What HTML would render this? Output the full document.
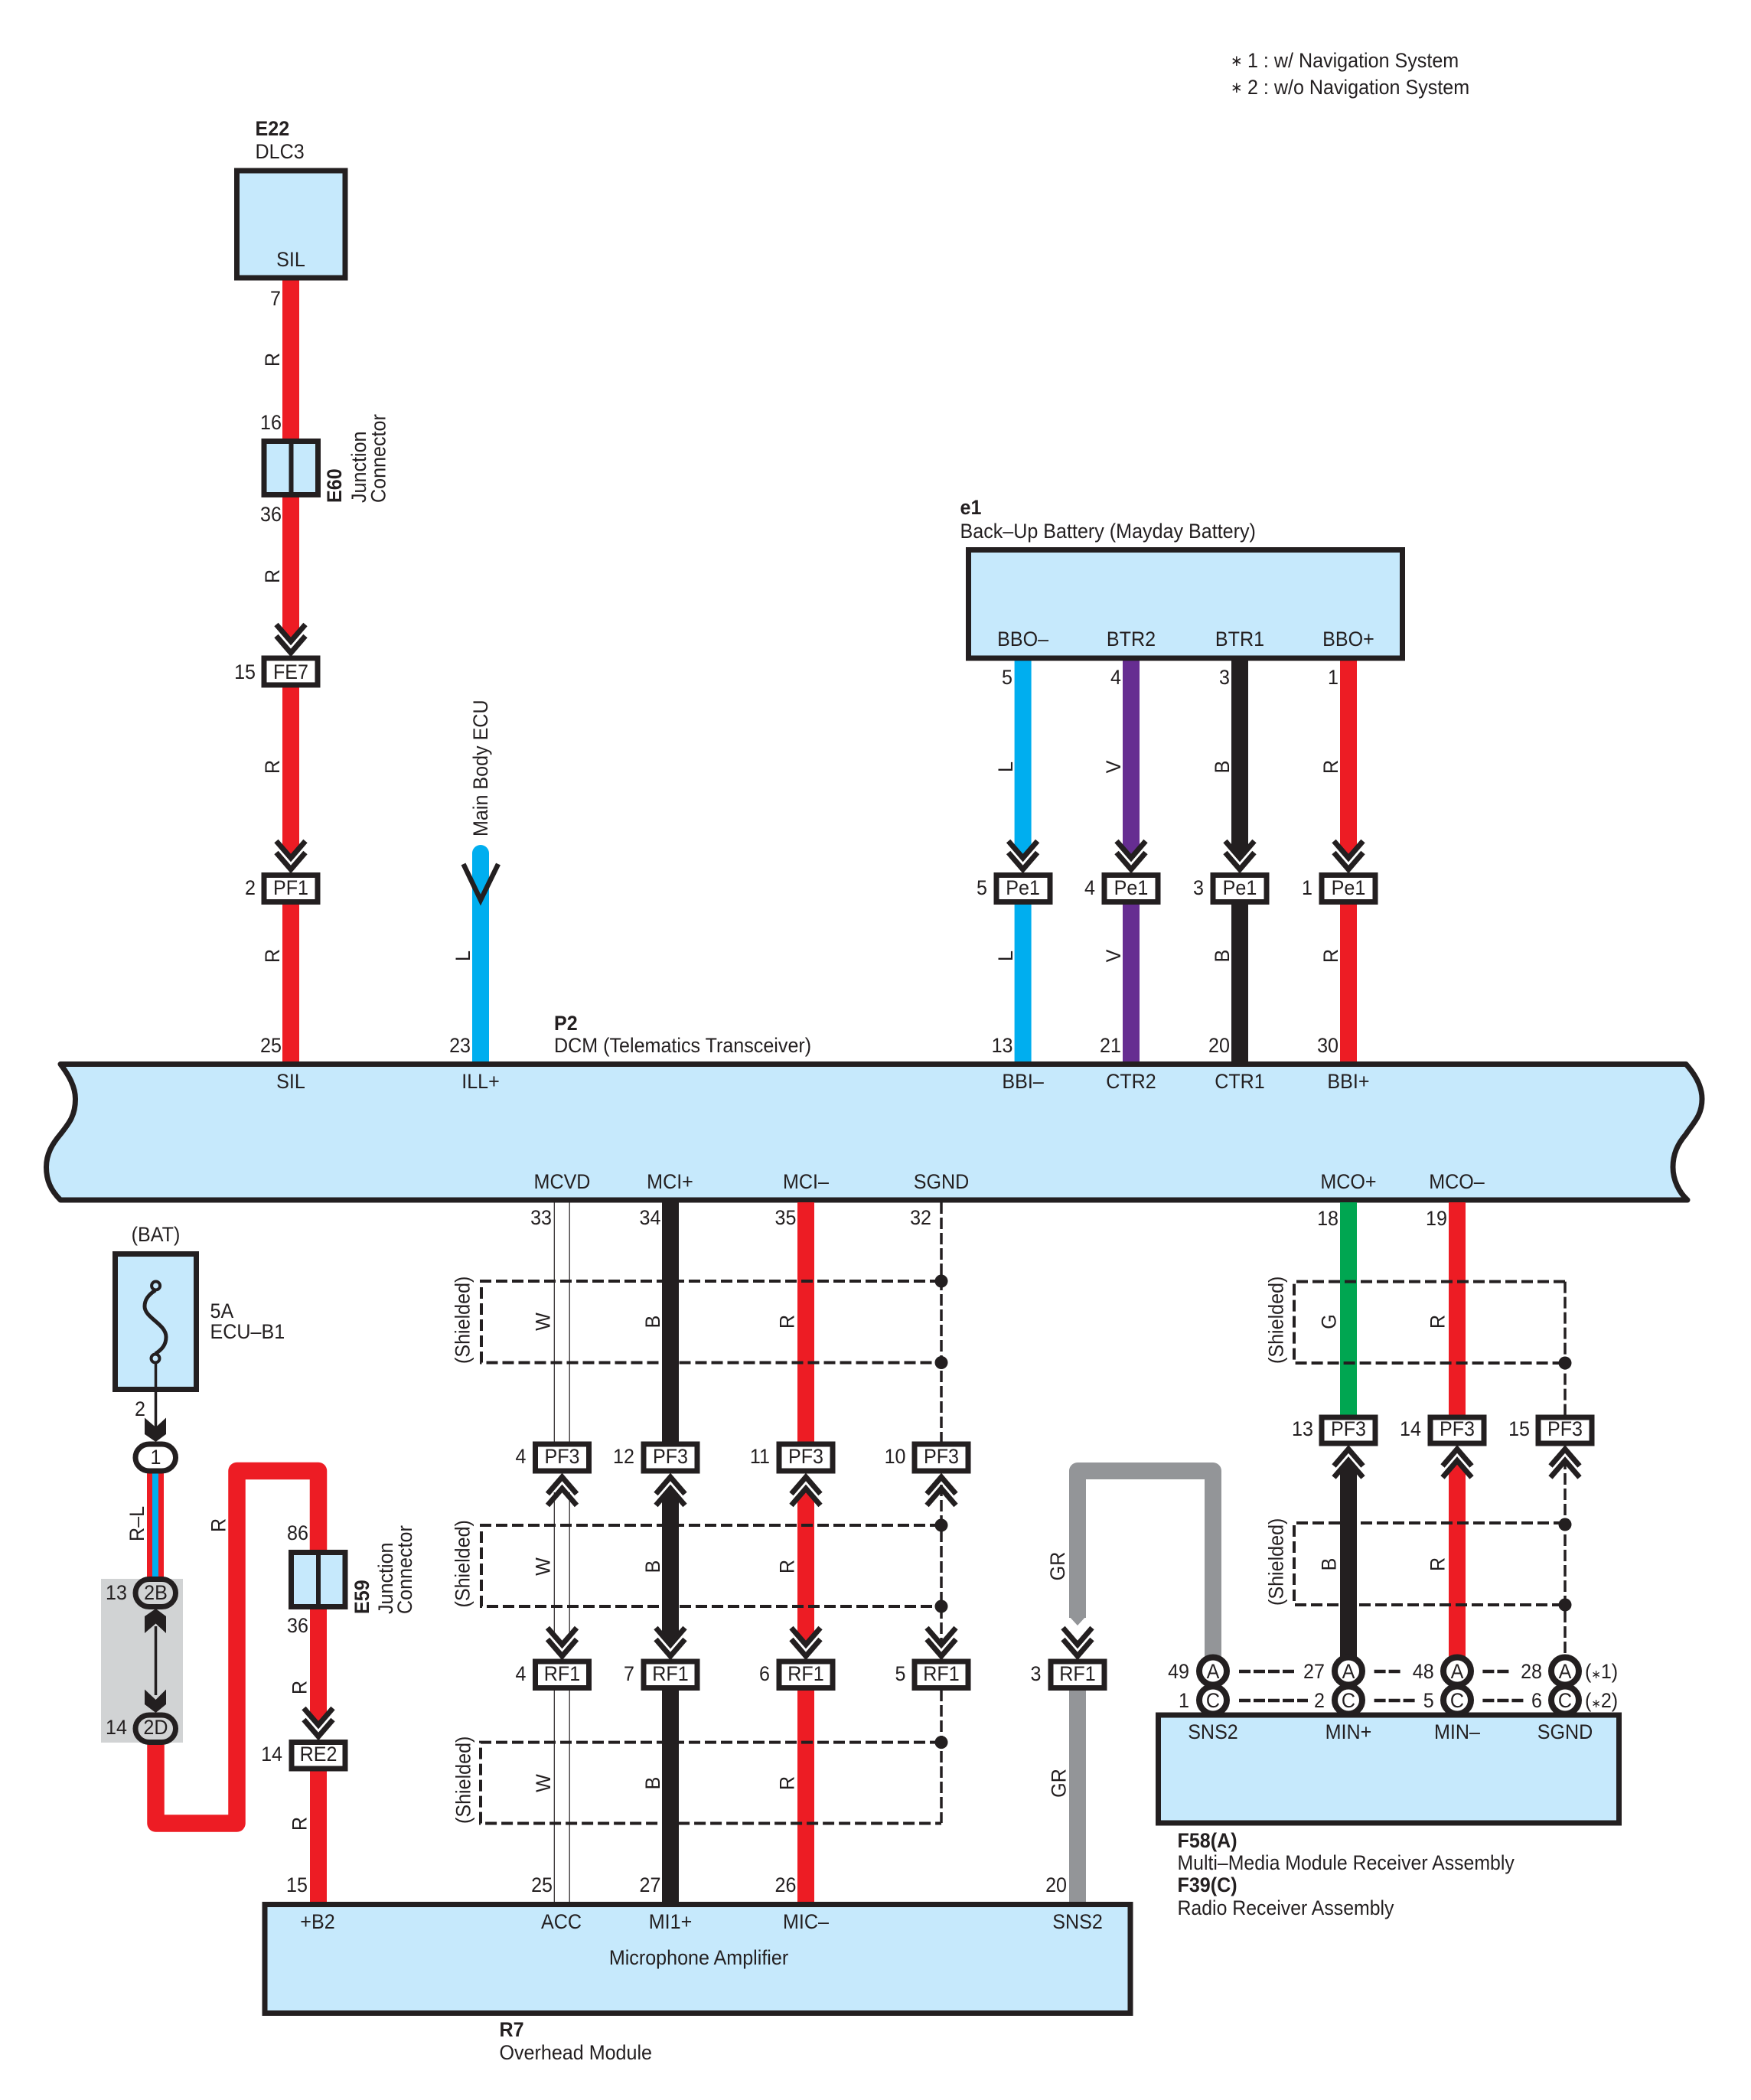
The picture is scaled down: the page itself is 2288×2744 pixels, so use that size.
<!DOCTYPE html>
<html><head><meta charset="utf-8"><title>Wiring diagram</title>
<style>
html,body{margin:0;padding:0;background:#fff}
svg{display:block}
text{font-family:"Liberation Sans",sans-serif;font-size:27px;fill:#231f20;transform-box:fill-box}
.t{text-anchor:start;transform:scaleX(.93);transform-origin:0 0}
.m{text-anchor:middle;transform:scaleX(.93);transform-origin:50% 0}
.e{text-anchor:end;transform:scaleX(.93);transform-origin:100% 0}
.n{transform:scaleX(.92)}
.b{font-weight:bold}
.w{fill:none;stroke-width:22}
.box{fill:#fff;stroke:#231f20;stroke-width:7}
.blue{fill:#c6e9fc;stroke:#231f20;stroke-width:7}
.d{fill:none;stroke:#231f20;stroke-width:4;stroke-dasharray:15 6}
.v{fill:none;stroke:#231f20;stroke-width:3.5;stroke-dasharray:15 5}
.thin{fill:none;stroke:#231f20;stroke-width:1.2}
.ring{fill:#fff;stroke:#231f20;stroke-width:8}
.pill{fill:#fff;stroke:#231f20;stroke-width:7}
</style></head><body>
<svg xmlns="http://www.w3.org/2000/svg" width="2288" height="2744" viewBox="0 0 2288 2744">
<defs>
<path id="cd" d="M-19 -37L0 -15L19 -37M-19 -22L0 0L19 -22" transform="translate(0,-4)" fill="none" stroke="#231f20" stroke-width="7"/>
<g id="cu"><use href="#cd" transform="scale(1,-1)"/></g>
</defs>
<rect width="2288" height="2744" fill="#fff"/>
<rect x="132" y="2063" width="107" height="214" fill="#d1d3d4"/>

<!-- wires top left -->
<path fill="#ed1c24" d="M369 366V829L380 841L391 829V366Z"/>
<path fill="#ed1c24" d="M369 898V1112L380 1124L391 1112V898Z"/>
<path class="w" stroke="#ed1c24" d="M380 1182V1392"/>
<path fill="#00aeef" d="M617 1390V1115A11 11 0 0 1 639 1115V1390Z"/>
<!-- battery wires -->
<path fill="#00aeef" d="M1325.6 863V1112L1336.6 1124L1347.6 1112V863Z"/>
<path fill="#662d91" d="M1467 863V1112L1478 1124L1489 1112V863Z"/>
<path fill="#231f20" d="M1609 863V1112L1620 1124L1631 1112V863Z"/>
<path fill="#ed1c24" d="M1751 863V1112L1762 1124L1773 1112V863Z"/>
<path class="w" stroke="#00aeef" d="M1336.6 1182V1392"/>
<path class="w" stroke="#662d91" d="M1478 1182V1392"/>
<path class="w" stroke="#231f20" d="M1620 1182V1392"/>
<path class="w" stroke="#ed1c24" d="M1762 1182V1392"/>

<!-- bus -->
<path class="blue" stroke-linejoin="round" d="M79 1390.5L2203 1390.5C2216 1405 2224 1420 2224 1436C2224 1458 2212 1468 2203 1482C2192 1495 2186 1508 2186 1525C2186 1542 2194 1558 2205 1568L79 1568C66 1555 60.5 1542 60.5 1525C60.5 1508 68 1495 79 1482C90 1468 98.5 1458 98.5 1436C98.5 1420 90 1405 79 1390.5Z"/>

<!-- e1 & E22 -->
<rect class="blue" x="1265.5" y="718.5" width="567" height="141.5"/>
<rect class="blue" x="309.5" y="223" width="141.5" height="140"/>
<!-- E60 -->
<rect class="blue" x="345" y="576.5" width="70.5" height="70"/>
<path d="M380.5 576V647" stroke="#231f20" stroke-width="6"/>

<!-- lower wires -->
<path class="thin" d="M724.3 1571V1884M744.2 1571V1884M724.3 1950V2142M744.2 1950V2142M724.3 2208V2486M744.2 2208V2486"/>
<path class="w" stroke="#231f20" d="M876 1571V1884"/>
<path class="w" stroke="#ed1c24" d="M1053 1571V1884"/>
<path fill="#231f20" d="M865 2141V1953L876 1941L887 1953V2141L876 2153Z"/>
<path fill="#ed1c24" d="M1042 2141V1953L1053 1941L1064 1953V2141L1053 2153Z"/>
<path class="w" stroke="#231f20" d="M876 2208V2487"/>
<path class="w" stroke="#ed1c24" d="M1053 2208V2487"/>
<path class="v" d="M1230 1571V1884M1230 1940V2152M1230 2208V2382"/>
<!-- right lower wires -->
<path class="w" stroke="#00a651" d="M1762 1571V1849"/>
<path class="w" stroke="#ed1c24" d="M1904 1571V1849"/>
<path fill="#231f20" d="M1751 2170V1917L1762 1905L1773 1917V2170Z"/>
<path fill="#ed1c24" d="M1893 2170V1917L1904 1905L1915 1917V2170Z"/>
<path class="v" d="M2045 1674.6V1849M2045 1905V2165"/>
<!-- GR -->
<path fill="none" stroke="#939598" stroke-width="22" stroke-linejoin="round" d="M1585 2170V1922H1408V2114"/>
<path fill="#939598" d="M1397 2112L1408 2124L1419 2112Z"/>
<path class="w" stroke="#939598" d="M1408 2208V2487"/>
<!-- R-L -->
<path class="w" stroke="#ed1c24" d="M203 1925V2062"/>
<path d="M203 1925V2062" stroke="#00aeef" stroke-width="8"/>
<!-- red U -->
<path fill="none" stroke="#ed1c24" stroke-width="22.5" stroke-linejoin="round" d="M203.5 2278V2382.5H309.5V1922H416V2026"/>
<path class="w" stroke="#ed1c24" d="M416 2102V2245"/>
<path fill="#ed1c24" d="M405 2245L416 2257L427 2245Z"/>
<path class="w" stroke="#ed1c24" d="M416 2314V2487"/>

<!-- BAT -->
<rect class="blue" x="150.5" y="1638.5" width="106" height="177"/>
<path d="M203 1686C192 1693 189 1700 189 1707C189 1722 217 1730 217 1747C217 1757 212 1763 203 1769" fill="none" stroke="#231f20" stroke-width="5"/>
<circle cx="203.6" cy="1680" r="5.5" fill="#c6e9fc" stroke="#231f20" stroke-width="4"/>
<circle cx="203" cy="1775" r="5.5" fill="#c6e9fc" stroke="#231f20" stroke-width="4"/>
<path d="M203.5 1781V1870M203.5 2125V2215" stroke="#231f20" stroke-width="3.5"/>
<path fill="#231f20" d="M189 1852.5L203.5 1865L217 1852.5V1874L203.5 1884L189 1874Z"/>
<path fill="#231f20" d="M189 2134L203.5 2121.5L217 2134V2112L203.5 2102L189 2112Z"/>
<path fill="#231f20" d="M189 2207.5L203.5 2221L217 2207.5V2227L203.5 2238L189 2227Z"/>
<rect class="pill" x="177" y="1887" width="52.5" height="35" rx="18" ry="17.5"/>
<rect class="pill" x="177" y="2063.5" width="52.5" height="36" rx="18" ry="18" style="fill:#d1d3d4"/>
<rect class="pill" x="177" y="2241" width="52.5" height="35.5" rx="18" ry="17.7" style="fill:#d1d3d4"/>
<!-- E59 -->
<rect class="blue" x="380.5" y="2028.5" width="70.5" height="71"/>
<path d="M416 2028V2100" stroke="#231f20" stroke-width="6"/>
<!-- R7 -->
<rect class="blue" x="346" y="2488.5" width="1131" height="142"/>
<!-- A C rings -->
<circle class="ring" cx="1585" cy="2221.5" r="18"/><circle class="ring" cx="1762" cy="2221.5" r="18"/><circle class="ring" cx="1904" cy="2221.5" r="18"/><circle class="ring" cx="2045" cy="2221.5" r="18"/>
<circle class="ring" cx="1585" cy="2183.5" r="18"/><circle class="ring" cx="1762" cy="2183.5" r="18"/><circle class="ring" cx="1904" cy="2183.5" r="18"/><circle class="ring" cx="2045" cy="2183.5" r="18"/>
<!-- F58 -->
<rect class="blue" x="1513.5" y="2241" width="602" height="141"/>

<!-- shields -->
<path class="d" d="M1230 1674H629V1780.5H1230"/>
<path class="d" d="M1230 1993H629V2099H1230"/>
<path class="d" d="M1230 2276.6H628V2382.5H1230"/>
<path class="d" d="M2045 1674.6H1691V1781H2045"/>
<path class="d" d="M2045 1990H1691V2097H2045"/>
<g fill="#231f20">
<circle cx="1230" cy="1674" r="8.5"/><circle cx="1230" cy="1780.5" r="8.5"/><circle cx="1230" cy="1993" r="8.5"/><circle cx="1230" cy="2099" r="8.5"/><circle cx="1230" cy="2276.6" r="8.5"/>
<circle cx="2045" cy="1781" r="8.5"/><circle cx="2045" cy="1992" r="8.5"/><circle cx="2045" cy="2097" r="8.5"/>
</g>
<path d="M1619 2184H1691M1795.6 2184H1830M1937.4 2184H1971.6M1619 2222H1709M1795.6 2222H1849M1937.4 2222H1990.5" fill="none" stroke="#231f20" stroke-width="4.5" stroke-dasharray="15 4"/>

<!-- connector boxes -->
<rect class="box" x="345" y="860" width="70" height="35"/>
<rect class="box" x="345" y="1143.5" width="70" height="35"/>
<rect class="box" x="1302" y="1143.5" width="70" height="35"/><rect class="box" x="1443" y="1143.5" width="70" height="35"/><rect class="box" x="1585" y="1143.5" width="70" height="35"/><rect class="box" x="1727" y="1143.5" width="70" height="35"/>
<rect class="box" x="699.5" y="1887" width="70" height="35"/><rect class="box" x="841" y="1887" width="70" height="35"/><rect class="box" x="1018" y="1887" width="70" height="35"/><rect class="box" x="1195" y="1887" width="70" height="35"/>
<rect class="box" x="699.5" y="2171" width="70" height="34.5"/><rect class="box" x="841" y="2171" width="70" height="34.5"/><rect class="box" x="1018" y="2171" width="70" height="34.5"/><rect class="box" x="1195" y="2171" width="70" height="34.5"/><rect class="box" x="1373" y="2171" width="70" height="34.5"/>
<rect class="box" x="381" y="2276.5" width="70" height="34.5"/>
<rect class="box" x="1727" y="1852" width="70" height="34"/><rect class="box" x="1869" y="1852" width="70" height="34"/><rect class="box" x="2010" y="1852" width="70" height="34"/>

<!-- chevrons -->
<use href="#cd" x="380" y="857"/><use href="#cd" x="380" y="1140"/>
<use href="#cd" x="1336.6" y="1140"/><use href="#cd" x="1478" y="1140"/><use href="#cd" x="1620" y="1140"/><use href="#cd" x="1762" y="1140"/>
<use href="#cd" x="734.5" y="2168"/><use href="#cd" x="876" y="2168"/><use href="#cd" x="1053" y="2168"/><use href="#cd" x="1230" y="2168"/><use href="#cd" x="1408" y="2168"/>
<use href="#cd" x="416" y="2273"/>
<use href="#cu" x="734.5" y="1926"/><use href="#cu" x="876" y="1926"/><use href="#cu" x="1053" y="1926"/><use href="#cu" x="1230" y="1926"/>
<use href="#cu" x="1762" y="1889.5"/><use href="#cu" x="1904" y="1889.5"/><use href="#cu" x="2045" y="1889.5"/>
<path d="M605.5 1129L628 1176L651 1129" fill="none" stroke="#231f20" stroke-width="6.5"/>

<!-- legend -->
<text class="t" x="1608" y="86" style="font-size:20px">∗</text><text class="t" x="1630" y="88">1 : w/ Navigation System</text>
<text class="t" x="1608" y="121" style="font-size:20px">∗</text><text class="t" x="1630" y="123">2 : w/o Navigation System</text>

<!-- headings -->
<text class="t b" x="333.5" y="177">E22</text><text class="t" x="333.5" y="207">DLC3</text>
<text class="m" x="380" y="348">SIL</text>
<text class="t b" x="1254.5" y="672">e1</text><text class="t" x="1254.5" y="703">Back–Up Battery (Mayday Battery)</text>
<text class="m" x="1336.6" y="844">BBO–</text><text class="m" x="1478" y="844">BTR2</text><text class="m" x="1620" y="844">BTR1</text><text class="m" x="1762" y="844">BBO+</text>
<text class="e" x="1323" y="894">5</text><text class="e" x="1465" y="894">4</text><text class="e" x="1607" y="894">3</text><text class="e" x="1749" y="894">1</text>
<text class="t b" x="724" y="1346">P2</text><text class="t" x="724" y="1375">DCM (Telematics Transceiver)</text>

<!-- pins top -->
<text class="e" x="367" y="399">7</text><text class="e" x="368" y="561">16</text><text class="e" x="368" y="681">36</text>
<text class="m" x="380" y="887">FE7</text><text class="e" x="334" y="887">15</text>
<text class="m" x="380" y="1169">PF1</text><text class="e" x="334" y="1169">2</text>
<text class="e" x="368" y="1375">25</text><text class="e" x="615" y="1375">23</text>
<text class="e" x="1323.5" y="1375">13</text><text class="e" x="1465" y="1375">21</text><text class="e" x="1607" y="1375">20</text><text class="e" x="1749" y="1375">30</text>
<text class="m" x="1336.6" y="1169">Pe1</text><text class="m" x="1478" y="1169">Pe1</text><text class="m" x="1620" y="1169">Pe1</text><text class="m" x="1762" y="1169">Pe1</text>
<text class="e" x="1290" y="1169">5</text><text class="e" x="1431" y="1169">4</text><text class="e" x="1573" y="1169">3</text><text class="e" x="1715" y="1169">1</text>
<!-- bus labels -->
<text class="m" x="380" y="1422">SIL</text><text class="m" x="628" y="1422">ILL+</text><text class="m" x="1336.6" y="1422">BBI–</text><text class="m" x="1478" y="1422">CTR2</text><text class="m" x="1620" y="1422">CTR1</text><text class="m" x="1762" y="1422">BBI+</text>
<text class="m" x="734.5" y="1553">MCVD</text><text class="m" x="875.5" y="1553">MCI+</text><text class="m" x="1053" y="1553">MCI–</text><text class="m" x="1230" y="1553">SGND</text><text class="m" x="1762" y="1553">MCO+</text><text class="m" x="1903.5" y="1553">MCO–</text>
<text class="e" x="721" y="1600">33</text><text class="e" x="863.5" y="1600">34</text><text class="e" x="1040.5" y="1600">35</text><text class="e" x="1217" y="1600">32</text><text class="e" x="1749" y="1601">18</text><text class="e" x="1891" y="1601">19</text>

<!-- BAT labels -->
<text class="m" x="203.5" y="1622">(BAT)</text><text class="t" x="274.5" y="1722">5A</text><text class="t" x="274.5" y="1749">ECU–B1</text>
<text class="e" x="190" y="1850">2</text><text class="m" x="203.5" y="1913">1</text><text class="m" x="203.5" y="2090">2B</text><text class="e" x="166" y="2090">13</text><text class="m" x="203.5" y="2266">2D</text><text class="e" x="166" y="2266">14</text>
<text class="e" x="403" y="2012">86</text><text class="e" x="403" y="2133">36</text>
<text class="m" x="416" y="2301">RE2</text><text class="e" x="369" y="2301">14</text><text class="e" x="402" y="2472">15</text>

<!-- PF3 RF1 -->
<text class="m" x="734.5" y="1912">PF3</text><text class="m" x="876" y="1912">PF3</text><text class="m" x="1053" y="1912">PF3</text><text class="m" x="1230" y="1912">PF3</text>
<text class="e" x="687.5" y="1912">4</text><text class="e" x="829" y="1912">12</text><text class="e" x="1006" y="1912">11</text><text class="e" x="1183.5" y="1912">10</text>
<text class="m" x="734.5" y="2196">RF1</text><text class="m" x="876" y="2196">RF1</text><text class="m" x="1053" y="2196">RF1</text><text class="m" x="1230" y="2196">RF1</text><text class="m" x="1408" y="2196">RF1</text>
<text class="e" x="687.5" y="2196">4</text><text class="e" x="829" y="2196">7</text><text class="e" x="1006" y="2196">6</text><text class="e" x="1183.5" y="2196">5</text><text class="e" x="1360.5" y="2196">3</text>
<text class="m" x="1762" y="1876">PF3</text><text class="m" x="1904" y="1876">PF3</text><text class="m" x="2045" y="1876">PF3</text>
<text class="e" x="1716" y="1876">13</text><text class="e" x="1857" y="1876">14</text><text class="e" x="1999" y="1876">15</text>
<text class="e" x="722" y="2472">25</text><text class="e" x="863.5" y="2472">27</text><text class="e" x="1040.5" y="2472">26</text><text class="e" x="1394" y="2472">20</text>
<!-- R7 -->
<text class="m" x="415" y="2520">+B2</text><text class="m" x="733.5" y="2520">ACC</text><text class="m" x="876" y="2520">MI1+</text><text class="m" x="1053" y="2520">MIC–</text><text class="m" x="1408" y="2520">SNS2</text>
<text class="m" x="913" y="2567">Microphone Amplifier</text>
<text class="t b" x="652.5" y="2661">R7</text><text class="t" x="652.5" y="2691">Overhead Module</text>
<!-- F58 -->
<text class="m" x="1585" y="2193">A</text><text class="m" x="1762" y="2193">A</text><text class="m" x="1904" y="2193">A</text><text class="m" x="2045" y="2193">A</text>
<text class="m" x="1585" y="2231">C</text><text class="m" x="1762" y="2231">C</text><text class="m" x="1904" y="2231">C</text><text class="m" x="2045" y="2231">C</text>
<text class="e" x="1554" y="2193">49</text><text class="e" x="1731" y="2193">27</text><text class="e" x="1873.7" y="2193">48</text><text class="e" x="2015" y="2193">28</text>
<text class="e" x="1554" y="2231">1</text><text class="e" x="1731" y="2231">2</text><text class="e" x="1873.7" y="2231">5</text><text class="e" x="2015" y="2231">6</text>
<text class="t" x="2071" y="2193">(<tspan style="font-size:16px">∗</tspan>1)</text><text class="t" x="2071" y="2231">(<tspan style="font-size:16px">∗</tspan>2)</text>
<text class="m" x="1585" y="2272">SNS2</text><text class="m" x="1762" y="2272">MIN+</text><text class="m" x="1904" y="2272">MIN–</text><text class="m" x="2045" y="2272">SGND</text>
<text class="t b" x="1538.5" y="2414">F58(A)</text><text class="t n" x="1538.5" y="2443">Multi–Media Module Receiver Assembly</text><text class="t b" x="1538.5" y="2472">F39(C)</text><text class="t n" x="1538.5" y="2502">Radio Receiver Assembly</text>

<!-- rotated -->
<g transform="translate(365,470) rotate(-90)"><text class="m">R</text></g>
<g transform="translate(365,753) rotate(-90)"><text class="m">R</text></g>
<g transform="translate(365,1002) rotate(-90)"><text class="m">R</text></g>
<g transform="translate(365,1249) rotate(-90)"><text class="m">R</text></g>
<g transform="translate(446,657) rotate(-90)"><text class="t b">E60</text></g>
<g transform="translate(478,657) rotate(-90)"><text class="t">Junction</text></g>
<g transform="translate(503.5,657) rotate(-90)"><text class="t">Connector</text></g>
<g transform="translate(637,1093) rotate(-90)"><text class="t">Main Body ECU</text></g>
<g transform="translate(614,1249) rotate(-90)"><text class="m">L</text></g>
<g transform="translate(1323,1002) rotate(-90)"><text class="m">L</text></g><g transform="translate(1323,1249) rotate(-90)"><text class="m">L</text></g>
<g transform="translate(1464,1002) rotate(-90)"><text class="m">V</text></g><g transform="translate(1464,1249) rotate(-90)"><text class="m">V</text></g>
<g transform="translate(1606,1002) rotate(-90)"><text class="m">B</text></g><g transform="translate(1606,1249) rotate(-90)"><text class="m">B</text></g>
<g transform="translate(1748,1002) rotate(-90)"><text class="m">R</text></g><g transform="translate(1748,1249) rotate(-90)"><text class="m">R</text></g>
<g transform="translate(188,2014) rotate(-90)"><text class="t">R–L</text></g>
<g transform="translate(294.5,1993) rotate(-90)"><text class="m">R</text></g>
<g transform="translate(482,2109) rotate(-90)"><text class="t b">E59</text></g>
<g transform="translate(513,2109) rotate(-90)"><text class="t">Junction</text></g>
<g transform="translate(538,2109) rotate(-90)"><text class="t">Connector</text></g>
<g transform="translate(400.5,2205) rotate(-90)"><text class="m">R</text></g>
<g transform="translate(400.5,2383) rotate(-90)"><text class="m">R</text></g>
<g transform="translate(613.5,1782) rotate(-90)"><text class="t">(Shielded)</text></g>
<g transform="translate(613.5,2100.5) rotate(-90)"><text class="t">(Shielded)</text></g>
<g transform="translate(614.5,2383) rotate(-90)"><text class="t">(Shielded)</text></g>
<g transform="translate(1676.5,1782) rotate(-90)"><text class="t">(Shielded)</text></g>
<g transform="translate(1676.5,2098) rotate(-90)"><text class="t">(Shielded)</text></g>
<g transform="translate(718.5,1727) rotate(-90)"><text class="m">W</text></g><g transform="translate(718.5,2047) rotate(-90)"><text class="m">W</text></g><g transform="translate(719,2330) rotate(-90)"><text class="m">W</text></g>
<g transform="translate(862,1727) rotate(-90)"><text class="m">B</text></g><g transform="translate(862,2047) rotate(-90)"><text class="m">B</text></g><g transform="translate(862,2330) rotate(-90)"><text class="m">B</text></g>
<g transform="translate(1037.5,1727) rotate(-90)"><text class="m">R</text></g><g transform="translate(1037.5,2047) rotate(-90)"><text class="m">R</text></g><g transform="translate(1037.5,2330) rotate(-90)"><text class="m">R</text></g>
<g transform="translate(1745.5,1727) rotate(-90)"><text class="m">G</text></g><g transform="translate(1887.5,1727) rotate(-90)"><text class="m">R</text></g>
<g transform="translate(1745.5,2044) rotate(-90)"><text class="m">B</text></g><g transform="translate(1887.5,2044) rotate(-90)"><text class="m">R</text></g>
<g transform="translate(1391,2046.5) rotate(-90)"><text class="m">GR</text></g><g transform="translate(1392.5,2330) rotate(-90)"><text class="m">GR</text></g>
</svg>
</body></html>
